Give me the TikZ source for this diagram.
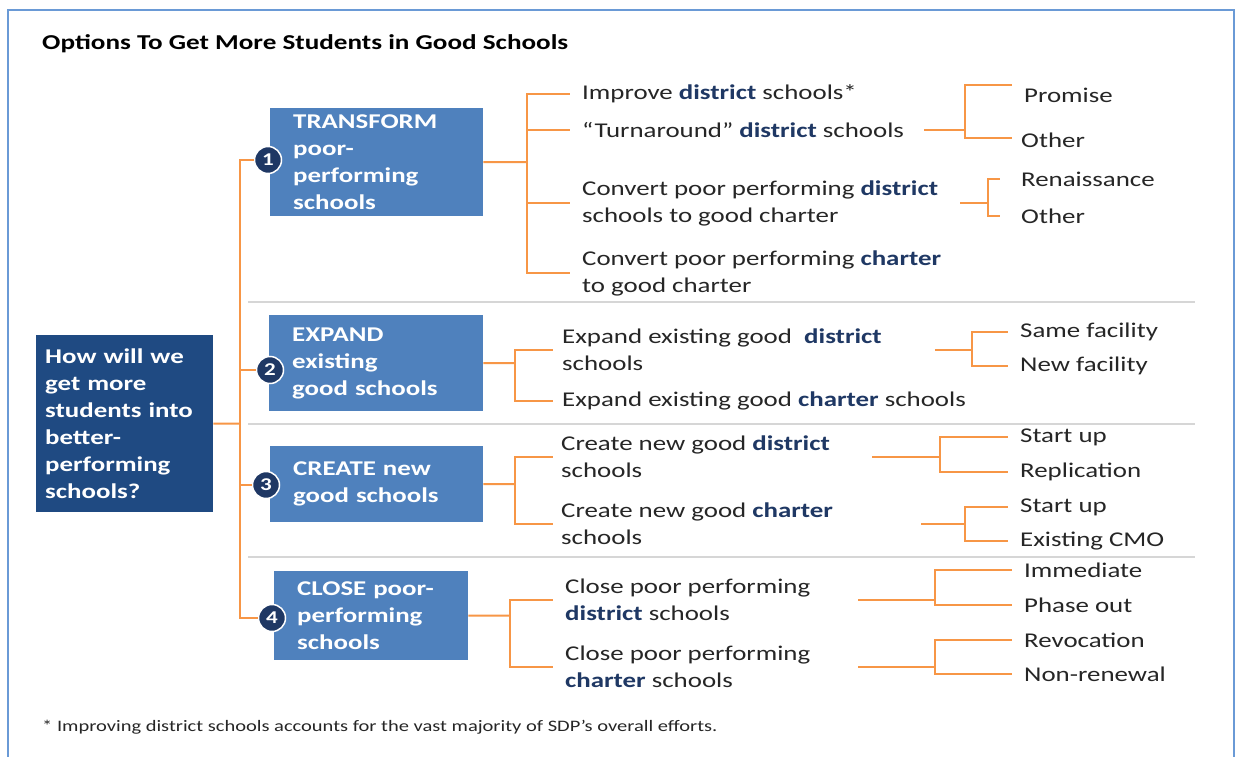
\documentclass[tikz,border=0pt]{standalone}
\usepackage{fontspec}
\setmainfont{Carlito}[FakeStretch=1.28]
\definecolor{navy}{HTML}{1F4A82}
\definecolor{boxblue}{HTML}{4F81BD}
\definecolor{lineorange}{HTML}{F79646}
\definecolor{kwblue}{HTML}{1F3864}
\definecolor{framecol}{HTML}{6A9AD6}
\definecolor{rulegray}{HTML}{D6D6D6}
\newcommand\kw[1]{\textbf{\textcolor{kwblue}{#1}}}

\begin{document}
\begin{tikzpicture}[x=1pt,y=-1pt,
  item/.style={anchor=west,inner sep=0pt,align=left,text=black!85,
    font=\fontsize{21}{27}\selectfont},
  qbox/.style={fill=navy,text=white,font=\bfseries\fontsize{21}{27}\selectfont,
    align=left,inner xsep=9pt,inner ysep=0pt,anchor=north west},
  opt/.style={fill=boxblue,text=white,font=\bfseries\fontsize{21}{27}\selectfont,
    align=left,inner xsep=23pt,inner ysep=0pt,anchor=north west},
  num/.style={circle,fill=kwblue,draw=white,line width=1.5pt,text=white,
    font=\bfseries\fontsize{18}{18}\selectfont,minimum size=27pt,inner sep=0pt},
  br/.style={draw=lineorange,line width=2pt},
  sep/.style={draw=rulegray,line width=1.5pt},
  frame/.style={draw=framecol,line width=1.5pt}]

\useasboundingbox[fill=white] (0,0) rectangle (1236,757);

% outer frame
\draw[frame] (8,757) -- (8,10) -- (1234,10) -- (1234,757);

% title and footnote
\node[anchor=west,inner sep=0pt,font=\bfseries\fontsize{21.2}{25}\selectfont] (title) at (42,44)
  {Options\ To Get More Students in Good Schools};
\node[anchor=west,inner sep=0pt,text=black!85,font=\fontsize{16}{19}\selectfont] (foot) at (42,727)
  {* Improving district schools accounts for the vast majority of SDP’s overall efforts.};

% section rules
\draw[sep] (248,302) -- (1195,302);
\draw[sep] (248,424) -- (1195,424);
\draw[sep] (248,557) -- (1195,557);

% question box
\node[qbox,text width=159pt,minimum height=177pt] (q) at (36,335)
  {How will we\\get more\\students~into\\better-\\performing\\schools?};

% option boxes
\node[opt,text width=167pt,minimum height=108pt] (b1) at (270,108)
  {TRANSFORM\\poor-\\performing\\schools};
\node[opt,text width=168pt,minimum height=96pt] (b2) at (269,315)
  {EXPAND\\existing\\good~schools};
\node[opt,text width=167pt,minimum height=76pt] (b3) at (270,446)
  {CREATE~new\\good~schools};
\node[opt,text width=148pt,minimum height=89pt] (b4) at (274,571)
  {CLOSE~poor-\\performing\\schools};

% number badges
\node[num] (c1) at (268,160) {1};
\node[num] (c2) at (270,370) {2};
\node[num] (c3) at (266,485) {3};
\node[num] (c4) at (272,618) {4};

% trunk
\coordinate (tr) at (240,423.5);
\draw[br] (q.east) -- (tr);
\draw[br] (tr) |- (c1.west);
\draw[br] (tr) |- (c2.west);
\draw[br] (tr) |- (c3.west);
\draw[br] (tr) |- (c4.west);

% ---- group 1: transform ----
\node[item] (imp)  at (582,94)  {Improve \kw{district} schools*};
\node[item] (turn) at (582,130) {“Turnaround”\ \kw{district} schools};
\node[item] (cvd)  at (582,203) {Convert poor performing \kw{district}\\schools to good charter};
\node[item] (cvc)  at (582,273) {Convert poor performing \kw{charter}\\to good charter};
\node[item] (prom) at (1024,95)  {Promise};
\node[item] (oth1) at (1021,140) {Other};
\node[item] (ren)  at (1021,179) {Renaissance};
\node[item] (oth2) at (1021,216) {Other};

\coordinate (g1) at (527,162);
\draw[br] (b1.east) -- (g1);
\draw[br] (g1) |- ([xshift=-12pt]imp.west);
\draw[br] (g1) |- ([xshift=-12pt]turn.west);
\draw[br] (g1) |- ([xshift=-12pt]cvd.west);
\draw[br] (g1) |- ([xshift=-12pt]cvc.west);

\coordinate (j1) at (965,130);
\draw[br] ([xshift=20pt]turn.east) -- (j1);
\draw[br] (j1) |- ([xshift=-12pt,yshift=10pt]prom.west);
\draw[br] (j1) |- ([xshift=-9pt,yshift=2pt]oth1.west);

\coordinate (j2) at (988,203);
\draw[br] ([xshift=22pt]cvd.east) -- (j2);
\draw[br] (j2) |- ([xshift=-21pt]ren.west);
\draw[br] (j2) |- ([xshift=-21pt]oth2.west);

% ---- group 2: expand ----
\node[item] (expd) at (562,350) {Expand existing good\ \ \kw{district}\\schools};
\node[item] (expc) at (562,401) {Expand existing good \kw{charter} schools};
\node[item] (same) at (1020,332) {Same facility};
\node[item] (newf) at (1020,366) {New facility};

\coordinate (g2) at (515,363);
\draw[br] (b2.east) -- (g2);
\draw[br] (g2) |- ([xshift=-9pt]expd.west);
\draw[br] (g2) |- ([xshift=-9pt]expc.west);

\coordinate (j3) at (972,350);
\draw[br] ([xshift=53pt]expd.east) -- (j3);
\draw[br] (j3) |- ([xshift=-12pt]same.west);
\draw[br] (j3) |- ([xshift=-12pt]newf.west);

% ---- group 3: create ----
\node[item] (crd) at (561,457) {Create new good \kw{district}\\schools};
\node[item] (crc) at (561,524) {Create new good \kw{charter}\\schools};
\node[item] (su1) at (1020,437) {Start up};
\node[item] (rep) at (1020,472) {Replication};
\node[item] (su2) at (1020,507) {Start up};
\node[item] (cmo) at (1020,541) {Existing CMO};

\coordinate (g3) at (515,484);
\draw[br] (b3.east) -- (g3);
\draw[br] (g3) |- ([xshift=-8pt]crd.west);
\draw[br] (g3) |- ([xshift=-8pt]crc.west);

\coordinate (j4) at (940,457);
\draw[br] ([xshift=42pt]crd.east) -- (j4);
\draw[br] (j4) |- ([xshift=-12pt]su1.west);
\draw[br] (j4) |- ([xshift=-12pt]rep.west);

\coordinate (j5) at (965,524);
\draw[br] ([xshift=88pt]crc.east) -- (j5);
\draw[br] (j5) |- ([xshift=-12pt]su2.west);
\draw[br] (j5) |- ([xshift=-12pt]cmo.west);

% ---- group 4: close ----
\node[item] (cld) at (565,600) {Close poor performing\\\kw{district} schools};
\node[item] (clc) at (565,667) {Close poor performing\\\kw{charter} schools};
\node[item] (imm) at (1024,570) {Immediate};
\node[item] (pho) at (1024,605) {Phase out};
\node[item] (rev) at (1024,640) {Revocation};
\node[item] (non) at (1024,674) {Non-renewal};

\coordinate (g4) at (510,615.5);
\draw[br] (b4.east) -- (g4);
\draw[br] (g4) |- ([xshift=-12pt]cld.west);
\draw[br] (g4) |- ([xshift=-12pt]clc.west);

\coordinate (j6) at (935,600);
\draw[br] ([xshift=48pt]cld.east) -- (j6);
\draw[br] (j6) |- ([xshift=-12pt]imm.west);
\draw[br] (j6) |- ([xshift=-12pt]pho.west);

\coordinate (j7) at (935,667);
\draw[br] ([xshift=48pt]clc.east) -- (j7);
\draw[br] (j7) |- ([xshift=-12pt]rev.west);
\draw[br] (j7) |- ([xshift=-12pt]non.west);

\end{tikzpicture}
\end{document}
